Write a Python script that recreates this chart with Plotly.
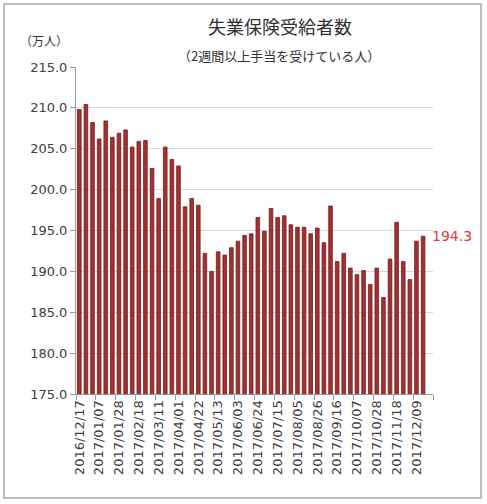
import pandas as pd
import plotly.graph_objects as go

# weekly data (万人)
values = [209.8, 210.4, 208.2, 206.2, 208.4, 206.4, 206.9, 207.3, 205.2, 205.9,
          206.0, 202.6, 198.9, 205.2, 203.7, 202.9, 197.9, 198.9, 198.1, 192.2,
          190.0, 192.4, 192.0, 192.9, 193.7, 194.4, 194.6, 196.6, 194.9, 197.7,
          196.6, 196.8, 195.7, 195.4, 195.4, 194.6, 195.3, 193.5, 198.0, 191.2,
          192.2, 190.4, 189.6, 190.1, 188.4, 190.4, 186.8, 191.5, 196.0, 191.2,
          189.0, 193.7, 194.3]
n_slots = 54  # one empty slot at the end of the axis
dates = [d.strftime("%Y/%m/%d") for d in pd.date_range("2016-12-17", periods=n_slots, freq="7D")]
tick_labels = dates[0:52:3]
last_label = "194.3"

title = "失業保険受給者数"
subtitle = "（2週間以上手当を受けている人）"
unit = "（万人）"

num_font = "DejaVu Sans"
jp_font = "Noto Sans CJK JP"
txt_col = "#404040"

fig = go.Figure()
fig.add_trace(go.Bar(
    x=dates[:len(values)], y=values,
    marker=dict(color="#A33131", line=dict(color="#6E1C1C", width=0.8)),
    width=0.55, hoverinfo="x+y",
))
# invisible trace for the boundary tick axis
fig.add_trace(go.Scatter(x=[-0.5, n_slots - 0.5], y=[175, 175], xaxis="x2",
                         mode="none", showlegend=False, hoverinfo="skip"))

fig.update_layout(
    width=487, height=504,
    margin=dict(l=76, r=54, t=67, b=110),
    paper_bgcolor="white", plot_bgcolor="white",
    showlegend=False,
    font=dict(family=num_font, size=12, color=txt_col),
    xaxis=dict(type="category", categoryorder="array", categoryarray=dates,
               range=[-0.5, n_slots - 0.5],
               tickmode="array", tickvals=tick_labels, ticktext=tick_labels,
               tickangle=-90, ticks="", showgrid=False,
               showline=True, linecolor="#9a9a9a", linewidth=1,
               tickfont=dict(family=num_font, size=13, color=txt_col)),
    xaxis2=dict(overlaying="x", range=[-0.5, n_slots - 0.5], anchor="y",
                tickmode="array", tickvals=[i - 0.5 for i in range(0, n_slots + 1, 3)],
                showticklabels=False, ticks="outside", ticklen=5, tickcolor="#9a9a9a",
                showgrid=False, zeroline=False, side="bottom"),
    yaxis=dict(range=[175, 215], dtick=5, tickformat=".1f",
               showgrid=True, gridcolor="#d9d9d9", gridwidth=1,
               showline=True, linecolor="#9a9a9a", linewidth=1,
               ticks="outside", ticklen=5, tickcolor="#9a9a9a",
               zeroline=False,
               tickfont=dict(family=num_font, size=13, color=txt_col)),
    annotations=[
        dict(text=title, xref="paper", yref="paper", x=(280 - 76) / 357, y=(394 - 26) / 327,
             showarrow=False, font=dict(family=jp_font, size=18, color="#303030"),
             xanchor="center", yanchor="middle"),
        dict(text=subtitle, xref="paper", yref="paper", x=(279 - 76) / 357, y=(394 - 55) / 327,
             showarrow=False, font=dict(family=jp_font, size=13, color="#303030"),
             xanchor="center", yanchor="middle"),
        dict(text=unit, xref="paper", yref="paper", x=(44 - 76) / 357, y=(394 - 40) / 327,
             showarrow=False, font=dict(family=jp_font, size=12, color="#303030"),
             xanchor="center", yanchor="middle"),
        dict(text=last_label, x=dates[len(values) - 1], y=values[-1], xref="x", yref="y",
             showarrow=False, xanchor="left", yanchor="middle", xshift=7,
             font=dict(family=num_font, size=14, color="#E0393E")),
    ],
    shapes=[dict(type="rect", xref="paper", yref="paper",
                 x0=(4 - 76) / 357, x1=(481 - 76) / 357,
                 y0=(394 - 498) / 327, y1=(394 - 4) / 327,
                 line=dict(color="#a8a8a8", width=1.5), layer="below")],
)

fig.write_html("out.html")
